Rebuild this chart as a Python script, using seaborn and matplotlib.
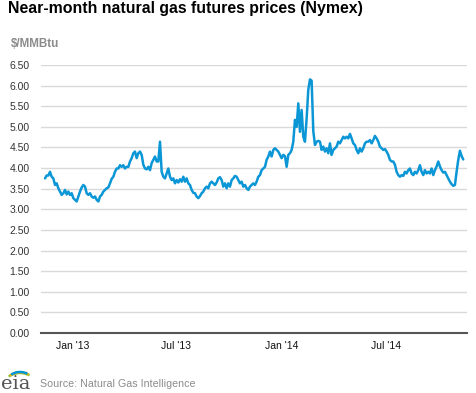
import numpy as np
import pandas as pd
import matplotlib
matplotlib.use("Agg")
import matplotlib.pyplot as plt
from matplotlib.patches import Arc
import seaborn as sns

# ---------------- data ----------------
start_date = "2012-11-14"
end_date = "2014-11-13"
prices = [
    # Nov 2012 - Apr 2013
    3.75, 3.82, 3.82, 3.91, 3.79, 3.75, 3.59, 3.63, 3.51, 3.43,
    3.35, 3.39, 3.47, 3.36, 3.43, 3.35, 3.39, 3.27, 3.23, 3.19,
    3.31, 3.43, 3.53, 3.59, 3.55, 3.39, 3.35, 3.39, 3.31, 3.28,
    3.31, 3.23, 3.19, 3.31, 3.35, 3.43, 3.47, 3.51, 3.53, 3.63,
    3.74, 3.79, 3.91, 3.99, 3.99, 4.07, 4.03, 4.07, 3.99, 4.03,
    # Apr 2013 - Sep 2013
    4.03, 4.16, 4.24, 4.36, 4.40, 4.24, 4.36, 4.40, 4.32, 4.08,
    3.99, 3.97, 4.03, 3.95, 4.12, 4.20, 4.28, 4.16, 4.16, 4.64,
    3.91, 3.79, 3.75, 3.87, 3.99, 3.79, 3.71, 3.75, 3.63, 3.71,
    3.65, 3.73, 3.67, 3.79, 3.67, 3.75, 3.63, 3.59, 3.47, 3.40,
    3.39, 3.31, 3.27, 3.32, 3.39, 3.43, 3.51, 3.55, 3.51, 3.63,
    3.67, 3.63, 3.59, 3.65,
    # Sep 2013 - Feb 2014
    3.75, 3.78, 3.71, 3.55, 3.63, 3.51, 3.63, 3.55, 3.71, 3.75,
    3.81, 3.79, 3.71, 3.63, 3.67, 3.55, 3.59, 3.51, 3.47, 3.55,
    3.59, 3.63, 3.59, 3.67, 3.79, 3.83, 3.95, 3.99, 4.03, 4.20,
    4.28, 4.40, 4.28, 4.44, 4.48, 4.44, 4.40, 4.32, 4.24, 4.32,
    4.29, 4.03, 4.32, 4.36, 4.44, 4.64, 5.17, 5.00, 5.57, 4.88,
    5.41, 4.76, 4.64, 5.20,
    # Feb 2014 - Aug 2014
    5.90, 6.15, 6.12, 4.90, 4.56, 4.64, 4.66, 4.64, 4.44, 4.52,
    4.40, 4.48, 4.36, 4.60, 4.32, 4.44, 4.48, 4.52, 4.64, 4.60,
    4.68, 4.76, 4.72, 4.76, 4.72, 4.83, 4.72, 4.60, 4.56, 4.44,
    4.36, 4.48, 4.40, 4.48, 4.60, 4.64, 4.64, 4.68, 4.60, 4.68,
    4.78, 4.72, 4.64, 4.52, 4.48, 4.44, 4.46, 4.40, 4.32, 4.20,
    4.16, 4.16, 4.08, 3.91,
    # Aug 2014 - Nov 2014
    3.83, 3.79, 3.83, 3.81, 3.91, 3.87, 3.95, 3.99, 3.87, 3.83,
    3.91, 3.87, 3.95, 4.07, 3.91, 3.83, 3.95, 3.87, 3.91, 3.87,
    3.99, 3.83, 3.95, 4.04, 4.16, 4.04, 3.95, 3.89, 3.91, 3.83,
    3.75, 3.67, 3.61, 3.57, 3.59, 3.91, 4.20, 4.42, 4.29, 4.21,
]
xtick_dates = ["2013-01-01", "2013-07-01", "2014-01-01", "2014-07-01"]
xtick_labels = ["Jan '13", "Jul '13", "Jan '14", "Jul '14"]
ytick_values = [0.0, 0.5, 1.0, 1.5, 2.0, 2.5, 3.0, 3.5, 4.0, 4.5, 5.0, 5.5, 6.0, 6.5]
title = "Near-month natural gas futures prices (Nymex)"
unit_label = "$/MMBtu"
source_text = "Source: Natural Gas Intelligence"

df = pd.DataFrame({
    "date": pd.date_range(start_date, end_date, periods=len(prices)),
    "price": prices,
})

# ---------------- style ----------------
sns.set_style("white")
plt.rcParams["font.family"] = ["Liberation Sans", "DejaVu Sans"]

W, H = 477, 393
fig = plt.figure(figsize=(W / 100, H / 100), dpi=100)
ax = fig.add_axes([41 / W, 1 - 333 / H, (466.7 - 41) / W, (333 - 65) / H])

line_color = "#0b96d6"
sns.lineplot(data=df, x="date", y="price", ax=ax, color=line_color,
             linewidth=1.8, zorder=3)

ax.set_xlim(pd.Timestamp("2012-11-07"), pd.Timestamp("2014-11-19"))
ax.set_ylim(0, 6.5)

ax.set_yticks(ytick_values)
ax.set_yticklabels([f"{v:.2f}" for v in ytick_values], fontsize=7.5, color="#333333")
ax.set_xticks([pd.Timestamp(d) for d in xtick_dates])
ax.set_xticklabels(xtick_labels, fontsize=7.5, color="#111111")
ax.tick_params(axis="y", length=0, pad=8)
ax.tick_params(axis="x", length=4, width=1, color="#555555", pad=1.5, direction="out")

for v in ytick_values[1:]:
    ax.axhline(v, color="#d9d9d9", linewidth=1.0, zorder=1)

for s in ["top", "right", "left"]:
    ax.spines[s].set_visible(False)
ax.spines["bottom"].set_color("#555555")
ax.spines["bottom"].set_linewidth(1.5)
ax.set_xlabel("")
ax.set_ylabel("")

# ---------------- texts ----------------
fig.text(8 / W, 1 - 9 / H, title, fontsize=11.4, fontweight="bold",
         color="#000000", va="center", ha="left")
fig.text(11 / W, 1 - 44 / H, unit_label, fontsize=8.4, fontweight="bold",
         color="#8c8c8c", va="center", ha="left")
fig.text(40 / W, 1 - 384 / H, source_text, fontsize=7.7,
         color="#8c8c8c", va="center", ha="left")

# eia logo
fig.text(1 / W, 1 - 393 / H, "eia", fontsize=14, family="DejaVu Serif",
         color="#555555", va="bottom", ha="left")
for i, c in enumerate(["#8dc63f", "#f5b400", "#0096d7"]):
    cx, cy = 20 / W, 1 - (382 - i * 1.5) / H
    w = (28 - i * 3) / W
    h = (18 - i * 2) / H
    arc = Arc((cx, cy), w, h, theta1=40, theta2=150, color=c, lw=1.8,
              transform=fig.transFigure)
    fig.patches.append(arc)

fig.savefig("out.png", dpi=100)
